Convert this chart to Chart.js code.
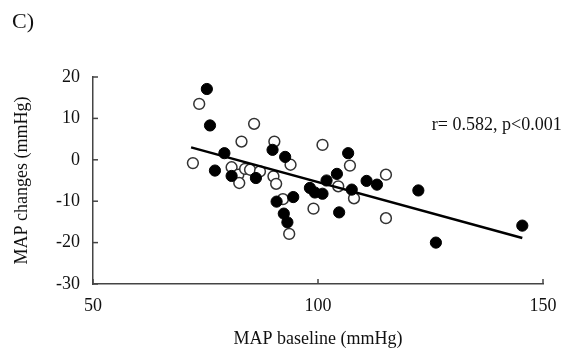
<!DOCTYPE html>
<html lang="en">
<head>
  <meta charset="UTF-8">
  <title>MAP changes vs MAP baseline</title>
  <script src="https://cdn.jsdelivr.net/npm/chart.js"></script>
  <style>
    html, body { margin: 0; padding: 0; background: #fff; }
    #wrap { width: 570px; height: 350px; }
  </style>
</head>
<body>
  <div id="wrap"><canvas id="grafica" width="570" height="350"></canvas></div>

  <script>
    // filled circles
    const filledX = [75.3, 76.0, 79.2, 77.1, 80.8, 86.2, 89.9, 92.7, 90.8, 94.5, 92.4, 93.2, 98.2,
                     99.3, 101.0, 101.9, 104.2, 106.7, 107.5, 104.7, 110.8, 113.1, 122.3, 126.2, 145.4];
    const filledY = [17.1, 8.3, 1.6, -2.6, -3.9, -4.4, 2.4, 0.7, -10.1, -9.0, -13.0, -15.1, -6.8,
                     -7.9, -8.2, -5.0, -3.4, 1.6, -7.2, -12.7, -5.1, -6.0, -7.4, -20.0, -15.9];

    // open circles
    const openX = [73.6, 85.8, 83.0, 90.3, 72.2, 80.8, 82.3, 82.5, 83.8, 84.9, 87.1, 90.1, 90.7,
                   93.9, 92.2, 93.6, 99.0, 101.0, 107.1, 104.5, 108.0, 115.1, 115.1];
    const openY = [13.5, 8.7, 4.4, 4.4, -0.8, -1.8, -3.6, -5.6, -2.2, -2.4, -2.8, -4.0, -5.8,
                   -1.2, -9.5, -17.9, -11.8, 3.6, -1.4, -6.4, -9.3, -3.6, -14.1];

    // regression line ends
    const fitX = [71.8, 145.4];
    const fitY = [3.0, -18.9];

    const xTicks = [50, 100, 150];
    const yTicks = [-30, -20, -10, 0, 10, 20];

    const panelLabel = 'C)';
    const statText = 'r= 0.582, p<0.001';
    const statPos = [125.3, 8.4];

    const toPoints = (xs, ys) => xs.map((x, i) => ({ x: x, y: ys[i] }));
    const serif = '"Liberation Serif", "Times New Roman", serif';

    // small tick marks pointing into the plot, plus the text labels
    const extras = {
      id: 'extras',
      afterDraw(chart) {
        const ctx = chart.ctx;
        const xs = chart.scales.x, ys = chart.scales.y;
        const area = chart.chartArea;
        ctx.save();
        ctx.strokeStyle = '#444';
        ctx.lineWidth = 1.5;
        xTicks.forEach(v => {
          const px = xs.getPixelForValue(v);
          ctx.beginPath();
          ctx.moveTo(px, area.bottom);
          ctx.lineTo(px, area.bottom - 5);
          ctx.stroke();
        });
        yTicks.forEach(v => {
          const py = ys.getPixelForValue(v);
          ctx.beginPath();
          ctx.moveTo(area.left, py);
          ctx.lineTo(area.left + 5, py);
          ctx.stroke();
        });

        ctx.fillStyle = '#111';
        ctx.font = '18px ' + serif;
        ctx.textAlign = 'left';
        ctx.textBaseline = 'middle';
        ctx.fillText(statText, xs.getPixelForValue(statPos[0]), ys.getPixelForValue(statPos[1]));

        ctx.font = '22px ' + serif;
        ctx.fillText(panelLabel, 12, 22);
        ctx.restore();
      }
    };

    const ctx = document.getElementById('grafica').getContext('2d');
    new Chart(ctx, {
      type: 'scatter',
      data: {
        datasets: [
          {
            type: 'line',
            data: toPoints(fitX, fitY),
            borderColor: '#000',
            borderWidth: 2.5,
            pointRadius: 0,
            fill: false
          },
          {
            data: toPoints(filledX, filledY),
            backgroundColor: '#000',
            borderColor: '#000',
            borderWidth: 1,
            pointRadius: 5.6
          },
          {
            data: toPoints(openX, openY),
            backgroundColor: '#fff',
            borderColor: '#333',
            borderWidth: 1.5,
            pointRadius: 5.4
          }
        ]
      },
      options: {
        responsive: false,
        animation: false,
        events: [],
        layout: { padding: { left: 0, right: 27, top: 77, bottom: 0 } },
        plugins: {
          legend: { display: false },
          tooltip: { enabled: false }
        },
        scales: {
          x: {
            type: 'linear',
            min: 50,
            max: 150,
            afterBuildTicks: s => { s.ticks = xTicks.map(v => ({ value: v })); },
            afterFit: s => { s.height = 66; },
            grid: { display: false, drawTicks: false },
            border: { display: true, color: '#444', width: 1.5 },
            ticks: { color: '#111', padding: 11, font: { family: serif, size: 18 } },
            title: {
              display: true,
              text: 'MAP baseline (mmHg)',
              color: '#111',
              padding: { top: 2, bottom: 0 },
              font: { family: serif, size: 18 }
            }
          },
          y: {
            min: -30,
            max: 20,
            afterBuildTicks: s => { s.ticks = yTicks.map(v => ({ value: v })); },
            afterFit: s => { s.width = 93; },
            grid: { display: false, drawTicks: false },
            border: { display: true, color: '#444', width: 1.5 },
            ticks: { color: '#111', padding: 13, font: { family: serif, size: 18 } },
            title: {
              display: true,
              text: 'MAP changes (mmHg)',
              color: '#111',
              padding: { top: 11, bottom: 0 },
              font: { family: serif, size: 18 }
            }
          }
        }
      },
      plugins: [extras]
    });
  </script>
</body>
</html>
